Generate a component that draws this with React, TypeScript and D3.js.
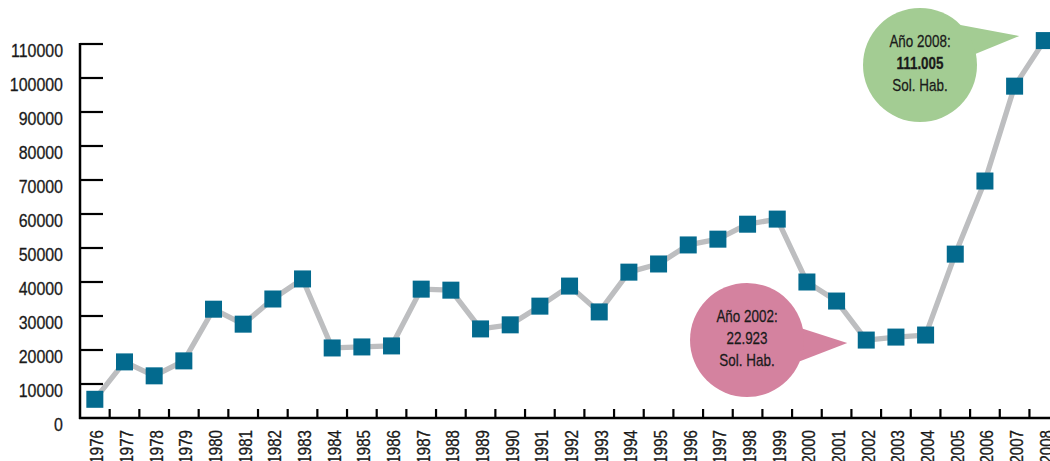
import React, { useEffect, useRef } from 'react';
import * as d3 from 'd3';

const years = ['1976','1977','1978','1979','1980','1981','1982','1983','1984','1985','1986','1987','1988','1989','1990','1991','1992','1993','1994','1995','1996','1997','1998','1999','2000','2001','2002','2003','2004','2005','2006','2007','2008'];
const solicitudes = [5500,16500,12400,16800,32000,27600,35000,40900,20600,20900,21200,37900,37600,26200,27400,32900,38800,31200,42900,45300,50900,52600,57000,58500,40000,34400,22923,23800,24400,48200,69700,97600,111005];
const yTicks = [0,10000,20000,30000,40000,50000,60000,70000,80000,90000,100000,110000];
const note2008 = ['Año 2008:', '111.005', 'Sol. Hab.'];
const note2002 = ['Año 2002:', '22.923', 'Sol. Hab.'];

// no condensed font installed, so squeeze Liberation Sans horizontally
const FONT = '"Liberation Sans", Arial, sans-serif';
const SQUEEZE = 0.84;
const INK = '#1a1a1a';

const App = () => {
  const ref = useRef<SVGSVGElement>(null);

  useEffect(() => {
    const svg = d3.select(ref.current);
    svg.selectAll('*').remove();

    const left = 80;
    const bottom = 418;
    const x = d3.scaleBand().domain(years).range([left, left + 33 * 29.67]).padding(0);
    const y = d3.scaleLinear().domain([0, 110000]).range([bottom, 44]);
    const cx = (yr: string) => (x(yr) as number) + x.bandwidth() / 2;

    // callouts first (under the line)
    const callout = (lines: string[], c: [number, number], tip: [number, number], a1: number, a2: number, fill: string, boldMid: boolean) => {
      const r = 57;
      const p1: [number, number] = [c[0] + r * Math.cos(a1), c[1] + r * Math.sin(a1)];
      const p2: [number, number] = [c[0] + r * Math.cos(a2), c[1] + r * Math.sin(a2)];
      svg.append('path')
        .attr('d', `M${c[0]},${c[1]}L${p1[0]},${p1[1]}L${tip[0]},${tip[1]}L${p2[0]},${p2[1]}Z`)
        .attr('fill', fill);
      svg.append('circle').attr('cx', c[0]).attr('cy', c[1]).attr('r', r).attr('fill', fill);
      lines.forEach((t, i) => {
        svg.append('text')
          .attr('transform', `translate(${c[0]},${c[1] - 18 + i * 22}) scale(${SQUEEZE},1)`)
          .attr('text-anchor', 'middle')
          .attr('font-family', FONT)
          .attr('font-size', 16)
          .attr('font-weight', boldMid && i === 1 ? 'bold' : 'normal')
          .attr('fill', INK).attr('stroke', INK).attr('stroke-width', 0.25)
          .text(t);
      });
    };

    const p08: [number, number] = [cx('2008'), y(111005)];
    callout(note2008, [920, 65], [p08[0] - 25, p08[1] - 4.5], -0.78, -0.2, '#a3cc93', true);
    const p02: [number, number] = [cx('2002'), y(22923)];
    callout(note2002, [747, 340], [p02[0] - 19, p02[1] + 3], -0.2, 0.38, '#d4829f', false);

    // axes
    svg.append('line').attr('x1', left).attr('x2', left).attr('y1', y(110000) - 1).attr('y2', bottom + 1)
      .attr('stroke', '#000').attr('stroke-width', 2.5);
    svg.append('line').attr('x1', left - 1).attr('x2', 1050).attr('y1', bottom).attr('y2', bottom)
      .attr('stroke', '#000').attr('stroke-width', 2.5);

    yTicks.forEach((v) => {
      if (v > 0) {
        svg.append('line').attr('x1', left).attr('x2', left + 23).attr('y1', y(v)).attr('y2', y(v))
          .attr('stroke', '#000').attr('stroke-width', 2.2);
      }
      svg.append('text')
        .attr('transform', `translate(63,${y(v) + 13}) scale(${SQUEEZE},1)`)
        .attr('text-anchor', 'end')
        .attr('font-family', FONT).attr('font-size', 19)
        .attr('fill', INK).attr('stroke', INK).attr('stroke-width', 0.3)
        .text(String(v));
    });

    years.forEach((yr, i) => {
      if (i > 0) {
        const tx = x(yr) as number;
        svg.append('line').attr('x1', tx).attr('x2', tx).attr('y1', bottom).attr('y2', bottom - 9)
          .attr('stroke', '#000').attr('stroke-width', 2.2);
      }
      svg.append('text')
        .attr('transform', `translate(${cx(yr) + 8.5},430) rotate(-90) scale(${SQUEEZE},1)`)
        .attr('text-anchor', 'end')
        .attr('font-family', FONT).attr('font-size', 18)
        .attr('fill', INK).attr('stroke', INK).attr('stroke-width', 0.3)
        .text(yr);
    });
    const lastTick = (x('2008') as number) + x.bandwidth();
    if (lastTick < 1050) {
      svg.append('line').attr('x1', lastTick).attr('x2', lastTick).attr('y1', bottom).attr('y2', bottom - 9)
        .attr('stroke', '#000').attr('stroke-width', 2.2);
    }

    const line = d3.line<number>().x((_, i) => cx(years[i])).y((d) => y(d));
    svg.append('path').datum(solicitudes).attr('d', line)
      .attr('fill', 'none').attr('stroke', '#bdbec0').attr('stroke-width', 5.3).attr('stroke-linejoin', 'round');

    svg.selectAll('.pt').data(solicitudes).enter().append('rect')
      .attr('class', 'pt')
      .attr('x', (_, i) => cx(years[i]) - 8.5)
      .attr('y', (d) => y(d) - 8.5)
      .attr('width', 17).attr('height', 17)
      .attr('fill', '#036a8e');
  }, []);

  return (
    <svg ref={ref} width={1050} height={461} style={{ position: 'absolute', left: 0, top: 0, background: '#fff' }} />
  );
};

export default App;
